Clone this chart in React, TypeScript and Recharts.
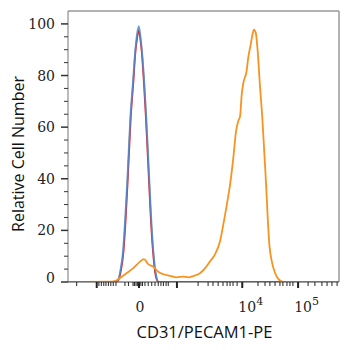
import { LineChart, Line, XAxis, YAxis, ReferenceLine } from "recharts";

document.body.style.margin = "0";

// channel scale: 0..1000 across the plot (logicle display)
const redX = [0, 164, 183, 195, 205, 213, 219.5, 225.5, 231.5, 240.5, 249, 255, 261, 266.5, 272, 280.5, 287.5, 293.5, 299.5, 305.5, 313.5, 323, 333, 1000];
const redY = [0, 0, 0.3, 4.3, 12, 24.8, 37.7, 50.8, 63.6, 76.5, 89.4, 94.5, 97.6, 94.5, 89.4, 76.5, 63.6, 50.8, 37.7, 24.8, 12, 2.8, 0, 0];

const blueX = [0, 162, 181, 193, 203, 211, 218, 224, 230, 239, 248, 254, 261, 267, 273, 282, 289, 295, 301, 307, 315, 325, 335, 1000];
const blueY = [0, 0, 0.3, 4.3, 12, 24.8, 37.7, 50.8, 63.6, 76.5, 89.4, 95.5, 99.1, 95.5, 89.4, 76.5, 63.6, 50.8, 37.7, 24.8, 12, 2.8, 0, 0];

const orangeX = [0, 167, 192, 217, 241, 266, 280, 296, 315, 333, 352, 376, 401, 425, 444, 462, 487, 506, 524, 542, 561, 573, 586, 598, 610, 620, 628, 635, 641, 647, 659, 665, 674, 682, 686, 693, 700, 708, 717, 724, 731, 737, 743, 752, 764, 776, 794, 1000];
const orangeY = [0, 0.1, 1.6, 3.5, 5.4, 7.9, 8.9, 6.9, 5.9, 4.0, 3.0, 2.4, 1.8, 2.1, 1.8, 2.3, 3.4, 5.4, 8.0, 10.6, 15.8, 22.2, 30.0, 37.7, 48.1, 58.4, 62.3, 64.2, 72.6, 77.1, 81.7, 86.8, 92.0, 96.5, 97.8, 96.5, 89.4, 76.5, 63.6, 50.8, 37.7, 24.8, 14.5, 8.0, 3.5, 1.2, 0, 0];

const xMajorTicks = [106, 262, 402, 643, 849];
const xMinorTicks = [32, 114, 123, 132, 140, 149, 158, 167, 177, 210, 223, 240, 245, 251, 256, 269, 275, 284, 296, 309, 321, 333, 343, 352, 362, 370, 480, 517, 535, 554, 572, 587, 598, 609, 624, 701, 727, 745, 764, 782, 793, 808, 819, 830, 886, 911, 937, 956, 974, 993];
const xTickLabels: Record<number, [string, string]> = {
  262: ["0", ""],
  643: ["10", "4"],
  849: ["10", "5"],
};

const yTicks = [0, 5, 10, 15, 20, 25, 30, 35, 40, 45, 50, 55, 60, 65, 70, 75, 80, 85, 90, 95, 100];

const toPoints = (xs: number[], ys: number[]) => xs.map((c, i) => ({ c, v: ys[i] }));

const TICK_FONT = "'DejaVu Serif', serif";

function YTick(props: any) {
  const { x, y, payload } = props;
  const major = payload.value % 20 === 0;
  return (
    <g>
      <line x1={x - (major ? 7 : 4)} x2={x} y1={y} y2={y} stroke="#333" strokeWidth={major ? 1.5 : 1} />
      {major && (
        <text
          x={x - 13}
          y={payload.value === 0 ? y + 1 : y + 5}
          textAnchor="end"
          fontFamily={TICK_FONT}
          fontSize={14}
          fill="#222"
        >
          {payload.value}
        </text>
      )}
    </g>
  );
}

function XTick(props: any) {
  const { x, y, payload } = props;
  const major = xMajorTicks.includes(payload.value);
  const lbl = xTickLabels[payload.value];
  return (
    <g>
      <line x1={x} x2={x} y1={y} y2={y + (major ? 6 : 4)} stroke="#222" strokeWidth={major ? 2 : 1} />
      {lbl && (
        <text
          x={lbl[1] ? x + 8.5 : x + 1}
          y={y + 30}
          textAnchor="middle"
          fontFamily={TICK_FONT}
          fontSize={14}
          fill="#222"
        >
          {lbl[0]}
          {lbl[1] && (
            <tspan dy={-7} fontSize={11}>
              {lbl[1]}
            </tspan>
          )}
        </text>
      )}
    </g>
  );
}

export default function App() {
  const allTicks = [...xMajorTicks, ...xMinorTicks].sort((a, b) => a - b);
  return (
    <div style={{ position: "relative", width: 354, height: 350, background: "#fff" }}>
      <LineChart width={354} height={350} margin={{ top: 11, right: 15, bottom: 0, left: 0 }}>
        <XAxis
          dataKey="c"
          type="number"
          domain={[0, 1000]}
          ticks={allTicks}
          interval={0}
          tickSize={0}
          tickMargin={0}
          tick={<XTick />}
          height={68}
          stroke="#444"
          allowDataOverflow
        />
        <YAxis
          type="number"
          domain={[0, 105]}
          ticks={yTicks}
          interval={0}
          tickSize={0}
          tickMargin={0}
          tick={<YTick />}
          width={68}
          stroke="#777"
          allowDataOverflow
        />
        <ReferenceLine y={105} stroke="#999" strokeWidth={1.5} />
        <ReferenceLine x={1000} stroke="#999" strokeWidth={1.5} />
        <Line data={toPoints(redX, redY)} dataKey="v" type="monotone" stroke="#e02424" strokeWidth={1.8} dot={false} isAnimationActive={false} />
        <Line data={toPoints(blueX, blueY)} dataKey="v" type="monotone" stroke="#4a90d6" strokeOpacity={0.85} strokeWidth={1.8} dot={false} isAnimationActive={false} />
        <Line data={toPoints(orangeX, orangeY)} dataKey="v" type="monotone" stroke="#f7931e" strokeWidth={1.8} dot={false} isAnimationActive={false} />
      </LineChart>
      <svg width={354} height={350} style={{ position: "absolute", left: 0, top: 0, pointerEvents: "none" }}>
        <text
          x={24}
          y={154}
          transform="rotate(-90 24 154)"
          textAnchor="middle"
          fontFamily="'Open Sans', sans-serif"
          fontSize={16}
          fill="#111"
        >
          Relative Cell Number
        </text>
        <text x={204.5} y={338} textAnchor="middle" fontFamily="'Open Sans', sans-serif" fontSize={16.5} fill="#111">
          CD31/PECAM1-PE
        </text>
      </svg>
    </div>
  );
}
